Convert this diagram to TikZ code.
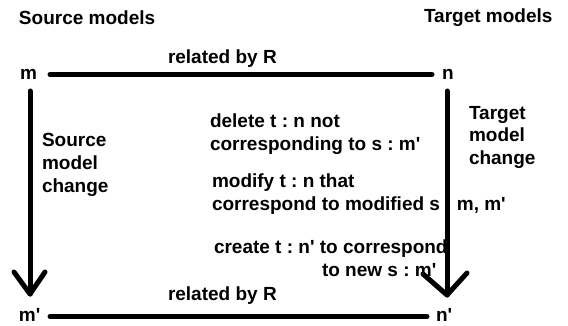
\documentclass[tikz,border=0pt]{standalone}
\usepackage{fontspec}
\setmainfont{Liberation Sans}
\newcommand\apos{\textquotesingle}
\begin{document}
\frenchspacing
\begin{tikzpicture}[x=1pt,y=-1pt,
  lbl/.style={font=\fontsize{19}{23}\selectfont\bfseries, inner sep=0pt, outer sep=0pt, anchor=base west, align=left},
  rel/.style={line width=5pt, line cap=round, line join=round},
]
\useasboundingbox (0,0) rectangle (568,326);

% column headings
\node[lbl] (src) at (19,25) {Source models};
\node[lbl] (tgt) at (424,23) {Target models};

% the four models
\node[lbl] (m)  at (20,80)  {m};
\node[lbl] (n)  at (442,80) {n};
\node[lbl] (m2) at (19,321) {m\apos};
\node[lbl] (n2) at (436,321) {n\apos};

% ends of the connectors
\coordinate (mR)  at (50,74.5);
\coordinate (nL)  at (432,74.5);
\coordinate (m2R) at (50,316.5);
\coordinate (n2L) at (427,316.5);
\coordinate (mD)  at (30,91);
\coordinate (m2U) at (30,294);
\coordinate (nD)  at (447,91);
\coordinate (n2U) at (447,295);

% relations
\draw[rel] (mR) -- (nL);
\draw[rel] (m2R) -- (n2L);
\node[lbl] (r1) at (168,64)  {related by R};
\node[lbl] (r2) at (168,300) {related by R};

% model changes
\draw[rel] (mD) -- (m2U);
\draw[rel] (m2U) ++(-16,-22) -- (m2U) -- ++(15,-22);
\draw[rel] (nD) -- (n2U);
\draw[rel] (n2U) ++(-24,-21) -- (n2U) -- ++(20,-22);
% multi-line labels are placed by the baseline of their last line
\node[lbl] (sc) at (42,193) {Source\\model\\change};
\node[lbl] (tc) at (469,165) {Target\\model\\change};

% propagation steps
\node[lbl] (del) at (210,151) {delete t : n not\\corresponding to s : m\apos};
\node[lbl] (mod) at (212,211) {modify t : n that\\correspond to modified s : m, m\apos};
\node[lbl] (cre) at (214,276) {create t : n\apos{} to correspond\\\hspace*{108pt}to new s : m\apos};
\end{tikzpicture}
\end{document}
